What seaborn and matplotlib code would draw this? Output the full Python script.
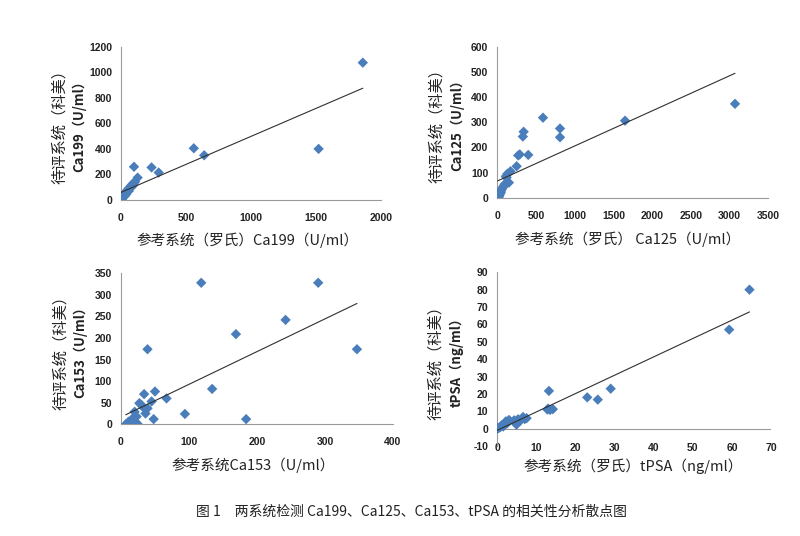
import numpy as np
import pandas as pd
import matplotlib
matplotlib.use("Agg")
import matplotlib.pyplot as plt
import seaborn as sns

# ---------------- data ----------------
ca199_ref = [1860, 1520, 560, 640, 235, 290, 100, 128,
             108, 100, 92, 85, 78, 70, 62, 55, 48, 42, 36, 30, 25, 20, 16, 13, 10, 7, 4, 2,
             80, 60, 40, 28, 95, 88]
ca199_test = [1075, 400, 405, 350, 255, 215, 260, 175,
              143, 135, 128, 120, 112, 100, 92, 85, 76, 68, 58, 50, 40, 35, 28, 20, 15, 10, 5, 3,
              100, 70, 45, 30, 120, 110]

ca125_ref = [3070, 1650, 590, 810, 810, 340, 330, 290, 270, 400, 250, 170, 130, 110, 120,
             150, 100, 90, 80, 70, 60, 50, 45, 40, 30, 25, 20, 15, 10, 5]
ca125_test = [373, 306, 318, 275, 240, 262, 243, 172, 168, 170, 125, 105, 95, 85, 80,
              60, 55, 50, 45, 40, 35, 28, 22, 18, 12, 8, 5, 2, 0, 0]

ca153_ref = [118, 290, 242, 169, 347, 39, 134, 67, 94, 184, 50, 34, 45, 48, 27, 33, 36,
             20, 23, 16, 11, 7, 12, 25, 21, 39, 30, 18]
ca153_test = [328, 328, 242, 209, 174, 174, 82, 60, 24, 12, 76, 70, 53, 12, 49, 39, 25,
              29, 18, 10, 6, 0, 0, 0, 6, 37, 45, 15]

tpsa_ref = [64.5, 59.3, 29.0, 25.7, 23.0, 13.2, 13.0, 14.2, 13.5, 12.8, 7.5, 6.6, 7.0, 5.3,
            4.5, 4.9, 4.3, 3.0, 2.2, 1.9, 1.1, 0.5, 0.0, 0.2, 1.5, 2.5, 6.0, 5.8, 0.8]
tpsa_test = [80.0, 57.0, 23.0, 16.7, 18.0, 21.7, 11.5, 11.2, 10.8, 11.0, 6.0, 6.7, 5.5, 5.4,
             4.2, 2.3, 4.8, 5.0, 4.2, 2.9, 1.9, 0.6, 0.0, 0.3, 1.2, 3.0, 5.0, 4.5, 1.0]

panels = [
    dict(x=ca199_ref, y=ca199_test, xlim=(0, 2000), xstep=500, ylim=(0, 1200), ystep=200,
         ylab2="Ca199（U/ml）", xlab="参考系统（罗氏）Ca199（U/ml）",
         box=(121, 46.7, 381, 200), ylx=(-0.235, -0.163), xlab_xy=(247, 240)),
    dict(x=ca125_ref, y=ca125_test, xlim=(0, 3500), xstep=500, ylim=(0, 600), ystep=100,
         ylab2="Ca125（U/ml）", xlab="参考系统（罗氏） Ca125（U/ml）",
         box=(497.3, 46.7, 768.3, 197.7), ylx=(-0.224, -0.148), xlab_xy=(628, 239)),
    dict(x=ca153_ref, y=ca153_test, xlim=(0, 400), xstep=100, ylim=(0, 350), ystep=50,
         ylab2="Ca153（U/ml）", xlab="参考系统Ca153（U/ml）",
         box=(121, 273.3, 393, 424.3), ylx=(-0.222, -0.151), xlab_xy=(253, 465)),
    dict(x=tpsa_ref, y=tpsa_test, xlim=(0, 70), xstep=10, ylim=(-10, 90), ystep=10,
         ylab2="tPSA（ng/ml）", xlab="参考系统（罗氏）tPSA（ng/ml）",
         box=(497.3, 272.3, 771, 446), ylx=(-0.224, -0.148), xlab_xy=(633, 466)),
]

ylab1 = "待评系统（科美）"
caption = "图 1　两系统检测 Ca199、Ca125、Ca153、tPSA 的相关性分析散点图"

# ---------------- style ----------------
sns.set_style("white")
plt.rcParams['font.family'] = ['Liberation Sans', 'Noto Sans CJK SC', 'DejaVu Sans']
CJK = ['Noto Sans CJK SC', 'DejaVu Sans']
POINT = "#4A7EBB"
AXC = "#9A9A9A"

W, H = 800, 536
fig = plt.figure(figsize=(W / 100, H / 100), dpi=100)

for p in panels:
    l, t, r, b = p["box"]
    ax = fig.add_axes([l / W, 1 - b / H, (r - l) / W, (b - t) / H])
    df = pd.DataFrame({"ref": p["x"], "test": p["y"]})
    sns.regplot(data=df, x="ref", y="test", ax=ax, ci=None, truncate=True, marker="D",
                scatter_kws=dict(s=28, color=POINT, edgecolors="none", alpha=1, zorder=3),
                line_kws=dict(color="#303030", lw=0.8, zorder=4))
    ax.set_xlim(*p["xlim"])
    ax.set_ylim(*p["ylim"])
    ax.set_xticks(np.arange(p["xlim"][0], p["xlim"][1] + 1e-9, p["xstep"]))
    ax.set_yticks(np.arange(p["ylim"][0], p["ylim"][1] + 1e-9, p["ystep"]))
    ax.xaxis.set_major_formatter(matplotlib.ticker.FuncFormatter(lambda v, _: f"{v:g}"))
    ax.yaxis.set_major_formatter(matplotlib.ticker.FuncFormatter(lambda v, _: f"{v:g}"))
    ax.set_xlabel("")
    ax.set_ylabel("")
    for s in ["top", "right"]:
        ax.spines[s].set_visible(False)
    ax.spines["left"].set_color(AXC)
    ax.spines["left"].set_linewidth(0.8)
    if p["ylim"][0] < 0:
        ax.spines["bottom"].set_visible(False)
        ax.axhline(0, color=AXC, lw=0.8, zorder=1)
        xpad = -2.5
    else:
        ax.spines["bottom"].set_color(AXC)
        ax.spines["bottom"].set_linewidth(0.8)
        xpad = 9.5
    ax.tick_params(axis="x", length=0, pad=xpad, labelsize=7.5, colors="#222222")
    ax.tick_params(axis="y", length=0, pad=6.5, labelsize=7.5, colors="#222222")
    for lab in ax.get_xticklabels() + ax.get_yticklabels():
        lab.set_fontweight("bold")
    ax.set_facecolor("none")

    ax.text(p["ylx"][0], 0.5, ylab1, transform=ax.transAxes, rotation=90,
            ha="center", va="center", family=CJK, fontsize=11, color="#222222")
    ax.text(p["ylx"][1], 0.5, p["ylab2"], transform=ax.transAxes, rotation=90,
            ha="center", va="center", family=CJK, fontsize=9.5, fontweight="bold",
            color="#222222")
    fig.text(p["xlab_xy"][0] / W, 1 - p["xlab_xy"][1] / H, p["xlab"], ha="center",
             va="center", family=CJK, fontsize=10.5, color="#222222")

fig.text(412 / W, 1 - 512 / H, caption, ha="center", va="center", family=CJK,
         fontsize=10, color="#222222")

fig.savefig("out.png", dpi=100, facecolor="white")
